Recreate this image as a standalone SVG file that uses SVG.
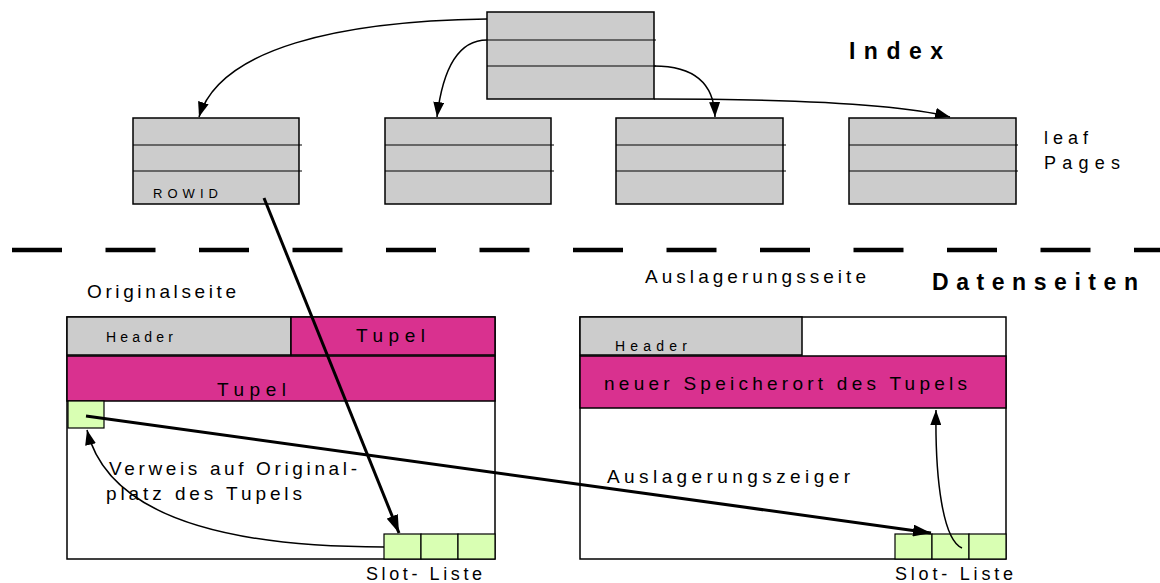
<svg xmlns="http://www.w3.org/2000/svg" width="1160" height="583" viewBox="0 0 1160 583">
  <style>
    .box { fill: #cccccc; stroke: #000; stroke-width: 1.5; }
    .row { stroke: #000; stroke-width: 1.2; }
    .tupel { fill: #d9318f; stroke: #000; stroke-width: 1.5; }
    .slot { fill: #d9ffb3; stroke: #000; stroke-width: 1.2; }
    .page { fill: #fff; stroke: #000; stroke-width: 1.5; }
    .t { font-family: "Liberation Sans", Arial, sans-serif; fill: #000; }
    .thin { fill: none; stroke: #000; stroke-width: 1.5; }
    .thick { fill: none; stroke: #000; stroke-width: 3; }
  </style>
  <defs>
    <marker id="ah" viewBox="0 0 18 12" refX="18" refY="6" markerWidth="18" markerHeight="12" markerUnits="userSpaceOnUse" orient="auto">
      <path d="M0,0 L18,6 L0,12 z" fill="#000"/>
    </marker>
    <marker id="ahs" viewBox="0 0 15 11" refX="15" refY="5.5" markerWidth="15" markerHeight="11" markerUnits="userSpaceOnUse" orient="auto">
      <path d="M0,0 L15,5.5 L0,11 z" fill="#000"/>
    </marker>
  </defs>

  <!-- index root page -->
  <g id="root">
    <rect class="box" x="487" y="12" width="167" height="87"/>
    <line class="row" x1="487" y1="40" x2="656" y2="40"/>
    <line class="row" x1="487" y1="66" x2="656" y2="66"/>
  </g>

  <!-- leaf pages -->
  <g id="leaf1">
    <rect class="box" x="133" y="118" width="166" height="86"/>
    <line class="row" x1="133" y1="145" x2="302" y2="145"/>
    <line class="row" x1="133" y1="171" x2="302" y2="171"/>
    <text class="t" x="153" y="198" font-size="13" textLength="65" lengthAdjust="spacing">ROWID</text>
  </g>
  <g id="leaf2">
    <rect class="box" x="385" y="118" width="166" height="86"/>
    <line class="row" x1="385" y1="145" x2="554" y2="145"/>
    <line class="row" x1="385" y1="171" x2="554" y2="171"/>
  </g>
  <g id="leaf3">
    <rect class="box" x="616" y="118" width="167" height="86"/>
    <line class="row" x1="616" y1="145" x2="786" y2="145"/>
    <line class="row" x1="616" y1="171" x2="786" y2="171"/>
  </g>
  <g id="leaf4">
    <rect class="box" x="849" y="118" width="167" height="86"/>
    <line class="row" x1="849" y1="145" x2="1018" y2="145"/>
    <line class="row" x1="849" y1="171" x2="1018" y2="171"/>
  </g>

  <!-- section labels -->
  <g id="labels">
    <text class="t" x="849" y="59" font-size="23" font-weight="bold" textLength="94" lengthAdjust="spacing">Index</text>
    <text class="t" x="1044" y="144" font-size="18" textLength="44" lengthAdjust="spacing">leaf</text>
    <text class="t" x="1044" y="169" font-size="18" textLength="76" lengthAdjust="spacing">Pages</text>
    <text class="t" x="87" y="298" font-size="19" textLength="149" lengthAdjust="spacing">Originalseite</text>
    <text class="t" x="645" y="283" font-size="19" textLength="221" lengthAdjust="spacing">Auslagerungsseite</text>
    <text class="t" x="932" y="290" font-size="23" font-weight="bold" textLength="206" lengthAdjust="spacing">Datenseiten</text>
  </g>

  <!-- separator between index and data pages -->
  <line x1="12" y1="250" x2="1160" y2="250" stroke="#000" stroke-width="4.5" stroke-dasharray="50 43.5"/>

  <!-- original data page -->
  <g id="page-original">
    <rect class="page" x="67" y="317" width="428" height="242"/>
    <rect class="box" x="67" y="317" width="224" height="38"/>
    <rect class="tupel" x="291" y="317" width="204" height="38"/>
    <rect class="tupel" x="67" y="356" width="428" height="45"/>
    <rect class="slot" x="68" y="401" width="36" height="27"/>
    <rect class="slot" x="384" y="534" width="37" height="25"/>
    <rect class="slot" x="421" y="534" width="37" height="25"/>
    <rect class="slot" x="458" y="534" width="37" height="25"/>
    <text class="t" x="106" y="342" font-size="14" textLength="67" lengthAdjust="spacing">Header</text>
    <text class="t" x="356" y="342" font-size="19" textLength="69" lengthAdjust="spacing">Tupel</text>
    <text class="t" x="217" y="396" font-size="19" textLength="69" lengthAdjust="spacing">Tupel</text>
    <text class="t" x="109" y="475" font-size="19" textLength="248" lengthAdjust="spacing">Verweis auf Original-</text>
    <text class="t" x="106" y="500" font-size="19" textLength="196" lengthAdjust="spacing">platz des Tupels</text>
    <text class="t" x="366" y="580" font-size="18" textLength="116" lengthAdjust="spacing">Slot- Liste</text>
  </g>

  <!-- overflow data page -->
  <g id="page-overflow">
    <rect class="page" x="580" y="317" width="426" height="242"/>
    <rect class="box" x="580" y="317" width="222" height="38"/>
    <rect class="tupel" x="580" y="356" width="426" height="52"/>
    <rect class="slot" x="895" y="534" width="37" height="25"/>
    <rect class="slot" x="932" y="534" width="37" height="25"/>
    <rect class="slot" x="969" y="534" width="37" height="25"/>
    <text class="t" x="615" y="351" font-size="14" textLength="72" lengthAdjust="spacing">Header</text>
    <text class="t" x="604" y="390" font-size="19" textLength="363" lengthAdjust="spacing">neuer Speicherort des Tupels</text>
    <text class="t" x="607" y="483" font-size="19" textLength="243" lengthAdjust="spacing">Auslagerungszeiger</text>
    <text class="t" x="895" y="580" font-size="18" textLength="118" lengthAdjust="spacing">Slot- Liste</text>
  </g>

  <!-- pointers -->
  <g id="connectors">
    <path class="thin" d="M487,19 C340,21 220,48 199,117" marker-end="url(#ahs)"/>
    <path class="thin" d="M487,40 C455,40 442,75 437,117" marker-end="url(#ahs)"/>
    <path class="thin" d="M654,66 C690,66 714,80 715,117" marker-end="url(#ahs)"/>
    <path class="thin" d="M654,99 C790,99 900,104 950,117" marker-end="url(#ahs)"/>
    <path class="thick" d="M264,198 L399,533" marker-end="url(#ah)"/>
    <path class="thick" d="M86,416 L931,533" marker-end="url(#ah)"/>
    <path class="thin" d="M384,547 C250,547 110,525 87,430" marker-end="url(#ahs)"/>
    <path class="thin" d="M962,548 C943,540 935,480 936,410" marker-end="url(#ahs)"/>
  </g>
</svg>
